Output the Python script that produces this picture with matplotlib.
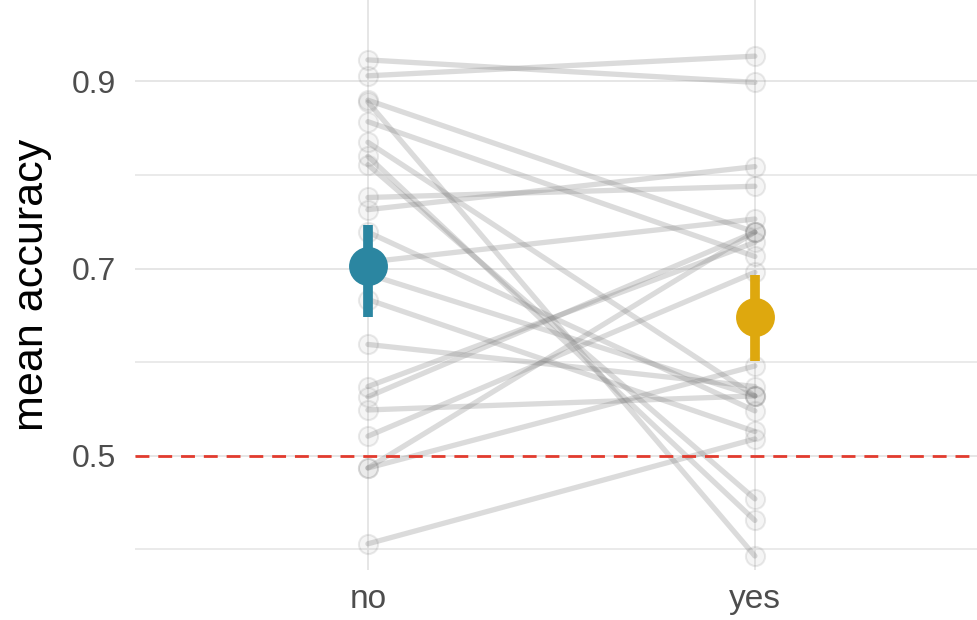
import numpy as np
import matplotlib
matplotlib.use("Agg")
import matplotlib.pyplot as plt

plt.rcParams['font.family'] = ['Liberation Sans', 'DejaVu Sans']

# per-subject mean accuracy in each condition (paired)
conditions = ["no", "yes"]
acc_no = [0.923, 0.906, 0.880, 0.878, 0.857, 0.835, 0.820, 0.811, 0.776, 0.763, 0.739,
          0.707, 0.694, 0.667, 0.619, 0.574, 0.563, 0.549, 0.521, 0.487, 0.487, 0.406]
acc_yes = [0.899, 0.927, 0.739, 0.393, 0.713, 0.564, 0.431, 0.454, 0.788, 0.809, 0.548,
           0.753, 0.564, 0.526, 0.574, 0.728, 0.739, 0.564, 0.696, 0.596, 0.739, 0.518]
# group summaries: mean and interval
grp_mean = [0.703, 0.648]
grp_lo = [0.648, 0.601]
grp_hi = [0.747, 0.693]
grp_colors = ["#2B86A1", "#DEA80E"]
chance = 0.5
yticks_major = [0.5, 0.7, 0.9]
yticks_minor = [0.4, 0.6, 0.8]

fig = plt.figure(figsize=(9.77, 6.2), dpi=100)
ax = fig.add_axes([135/977, 50/620, 842/977, 570/620])

xpos = np.arange(len(conditions))
for a, b in zip(acc_no, acc_yes):
    ax.plot(xpos, [a, b], color="#7f7f7f", alpha=0.28, lw=3.8, solid_capstyle="round", zorder=2)
for i, vals in enumerate([acc_no, acc_yes]):
    ax.scatter(np.full(len(vals), xpos[i]), vals, s=190, facecolor=(0.5, 0.5, 0.5, 0.08),
               edgecolor=(0.5, 0.5, 0.5, 0.16), lw=1.5, zorder=3)

ax.axhline(chance, color="#E23B2E", lw=2.0, ls=(0, (5, 3.2)), zorder=4)

for i in range(len(conditions)):
    ax.plot([xpos[i], xpos[i]], [grp_lo[i], grp_hi[i]], color=grp_colors[i], lw=7,
            solid_capstyle="butt", zorder=5)
    ax.plot(xpos[i], grp_mean[i], "o", color=grp_colors[i], ms=28, mec="none", zorder=6)

ax.set_xlim(-0.602, 1.574)
ax.set_ylim(0.378, 0.987)
ax.set_xticks(xpos)
ax.set_xticklabels(conditions)
ax.set_yticks(yticks_major)
ax.set_yticklabels([f"{v:.1f}" for v in yticks_major])
ax.set_yticks(yticks_minor, minor=True)
ax.grid(True, which="major", color="#E6E6E6", lw=1.4, zorder=0)
ax.grid(True, which="minor", axis="y", color="#E6E6E6", lw=1.2, zorder=0)
ax.set_axisbelow(True)
for s in ax.spines.values():
    s.set_visible(False)
ax.tick_params(which="both", length=0)
ax.tick_params(axis="y", labelsize=23, labelcolor="#4D4D4D", pad=14)
ax.tick_params(axis="x", labelsize=24, labelcolor="#4D4D4D", pad=10)
ax.set_ylabel("mean accuracy", fontsize=31, color="black", labelpad=14)

fig.savefig("out.png", dpi=100)
